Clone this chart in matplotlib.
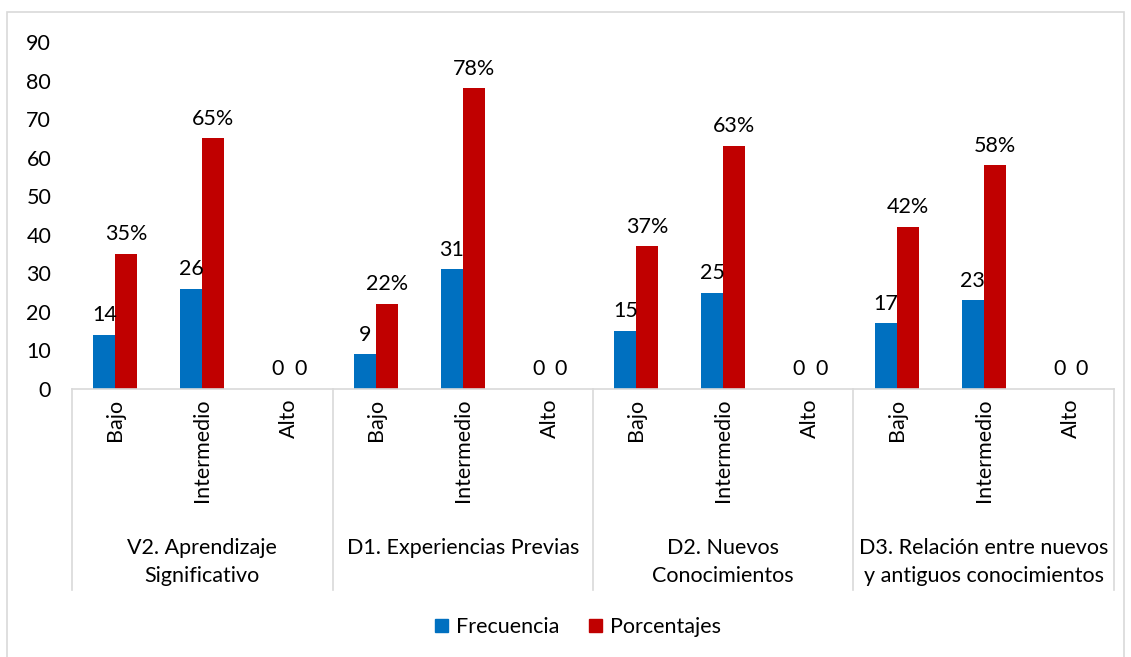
import matplotlib
matplotlib.use("Agg")
import matplotlib.pyplot as plt
from matplotlib.patches import Rectangle, Patch
import numpy as np

plt.rcParams['font.family'] = ['Lato', 'DejaVu Sans']

groups = ["V2. Aprendizaje\nSignificativo", "D1. Experiencias Previas",
          "D2. Nuevos\nConocimientos", "D3. Relación entre nuevos\ny antiguos conocimientos"]
levels = ["Bajo", "Intermedio", "Alto"]
frecuencia = [14, 26, 0, 9, 31, 0, 15, 25, 0, 17, 23, 0]
porcentajes = [35, 65, 0, 22, 78, 0, 37, 63, 0, 42, 58, 0]
yticks = [0, 10, 20, 30, 40, 50, 60, 70, 80, 90]

BLUE = '#0070C0'
RED = '#C00000'
GRID = '#D9D9D9'
FS = 15.5

W, H = 1131, 657
fig = plt.figure(figsize=(W / 100, H / 100), dpi=100)
x0, x1, ytop, ybase = 72, 1114, 42, 389
ax = fig.add_axes([x0 / W, 1 - ybase / H, (x1 - x0) / W, (ybase - ytop) / H])

n = len(frecuencia)
x = np.arange(n)
w = 0.254
ax.bar(x - w / 2, frecuencia, w, color=BLUE, label='Frecuencia')
ax.bar(x + w / 2, porcentajes, w, color=RED, label='Porcentajes')

for xi, v in zip(x, frecuencia):
    ax.annotate(f"{v}", (xi - w / 2, v), xytext=(0, 7), textcoords='offset points',
                ha='center', va='bottom', fontsize=FS, color='#000000')
for xi, v in zip(x, porcentajes):
    lab = f"{v}%" if v else "0"
    ax.annotate(lab, (xi + w / 2, v), xytext=(0, 7), textcoords='offset points',
                ha='center', va='bottom', fontsize=FS, color='#000000')

ax.set_xlim(-0.5, n - 0.5)
ax.set_ylim(0, 90)
ax.set_yticks(yticks)
ax.set_yticklabels([str(t) for t in yticks], fontsize=FS)
ax.tick_params(axis='y', length=0, pad=15)
ax.set_xticks([])
for s in ['top', 'right', 'left']:
    ax.spines[s].set_visible(False)
ax.spines['bottom'].set_color(GRID)
ax.spines['bottom'].set_linewidth(1.2)

ph = ybase - ytop
tr = ax.get_xaxis_transform()
# separators
for b in np.arange(0, n + 1, 3) - 0.5:
    ax.plot([b, b], [0, -(590 - ybase) / ph], transform=tr, color=GRID, lw=1.2, clip_on=False)
# level labels
for i in range(n):
    ax.text(i, -(399 - ybase) / ph, levels[i % 3], transform=tr, rotation=90,
            ha='center', va='top', fontsize=FS)
# group labels
for g, name in enumerate(groups):
    ax.text(3 * g + 1, -(538 - ybase) / ph, name, transform=tr, ha='center', va='top',
            fontsize=FS, linespacing=1.5, multialignment='center')

# chart border
fig.patches.append(Rectangle((7 / W, -0.02), (1124 - 7) / W, 1.02 - 12 / H,
                             transform=fig.transFigure, fill=False, edgecolor=GRID, lw=1.2))

handles = [Patch(color=BLUE, label='Frecuencia'), Patch(color=RED, label='Porcentajes')]
fig.legend(handles=handles, loc='center', bbox_to_anchor=(578 / W, 1 - 627 / H), ncol=2,
           frameon=False, fontsize=FS, handlelength=0.6, handleheight=0.6,
           handletextpad=0.35, columnspacing=1.4)

fig.savefig('out.png', dpi=100)
